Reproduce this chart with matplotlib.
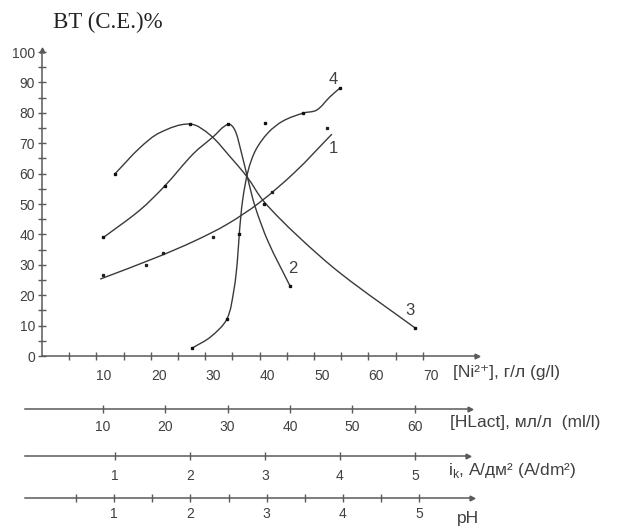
"""Current efficiency of nickel deposition versus bath composition and regime.

One efficiency axis is shared by four stacked abscissae: Ni2+ concentration,
lactic acid concentration, cathodic current density and pH.
"""
import numpy as np
import matplotlib.pyplot as plt
from matplotlib.path import Path
from matplotlib.patches import PathPatch

plt.rcParams["font.family"] = ["Liberation Sans", "DejaVu Sans"]
plt.rcParams["mathtext.fontset"] = "custom"
plt.rcParams["mathtext.rm"] = "Liberation Sans"

LINE_COLOUR = "#3a3a3a"
AXIS_COLOUR = "#5a5a5a"
TEXT_COLOUR = "#404040"

# traced curves (x in the Ni2+ scale, y = current efficiency, %)
curve1_x = [10.7, 21.0, 28.0, 34.0, 40.0, 46.5, 53.3]
curve1_y = [25.3, 32.4, 37.8, 43.3, 50.5, 60.5, 73.0]
curve2_x = [11.3, 18.0, 22.6, 27.8, 31.4, 34.2, 35.4, 36.5, 37.8, 39.2, 41.6, 45.6]
curve2_y = [39.0, 48.0, 56.0, 66.5, 72.0, 76.2, 74.5, 68.0, 58.5, 49.0, 37.5, 23.0]
curve3_x = [13.4, 18.0, 21.7, 27.2, 30.9, 34.6, 37.7, 40.8, 47.0, 55.0, 68.6]
curve3_y = [59.9, 68.5, 73.5, 76.3, 72.7, 65.5, 58.9, 50.8, 39.5, 27.0, 9.2]
curve4_x = [27.6, 31.0, 34.0, 35.3, 35.9, 36.3, 36.9, 37.9, 39.3, 41.6, 44.3, 48.0, 50.5, 52.9, 54.8]
curve4_y = [2.6, 6.3, 12.2, 22.0, 31.0, 41.0, 51.5, 61.0, 67.8, 73.5, 77.3, 79.9, 80.9, 85.2, 88.2]

# measured points
pts1_x = [11.2, 19.1, 22.2, 31.4, 42.3, 52.4]
pts1_y = [26.6, 29.9, 33.8, 39.1, 53.9, 75.0]
pts2_x = [11.3, 22.6, 34.2, 45.6]
pts2_y = [39.0, 56.0, 76.3, 23.0]
pts3_x = [13.4, 27.2, 40.8, 68.6]
pts3_y = [59.9, 76.3, 50.0, 9.2]
pts4_x = [27.6, 34.0, 36.2, 41.0, 48.0, 54.8]
pts4_y = [2.6, 12.2, 40.1, 76.6, 79.9, 88.2]

curve_labels = ["1", "2", "3", "4"]
label_x = [53.5, 46.1, 67.6, 53.5]
label_y = [68.4, 28.9, 15.1, 91.1]

ni_ticks = [10, 20, 30, 40, 50, 60, 70]
hlact_ticks = [10, 20, 30, 40, 50, 60]
ik_ticks = [1, 2, 3, 4, 5]
ph_ticks = [1, 2, 3, 4, 5]

W, H = 638, 528
X_SCALE, Y_SCALE = 5.44, 3.04   # pixels per data unit on the main axes


def box(left, top, right, bottom):
    """Pixel box -> figure-fraction rectangle."""
    return [left / W, 1 - bottom / H, (right - left) / W, (bottom - top) / H]


def smooth_path(xs, ys):
    """Smooth Bezier curve through the points, tangents taken in screen space."""
    p = np.column_stack([xs, ys]).astype(float) * [X_SCALE, Y_SCALE]
    n = len(p)
    tang = np.zeros_like(p)
    for i in range(n):
        d = p[min(i + 1, n - 1)] - p[max(i - 1, 0)]
        tang[i] = d / np.hypot(*d)
    verts = [p[0]]
    codes = [Path.MOVETO]
    for i in range(n - 1):
        seg = np.hypot(*(p[i + 1] - p[i])) / 3
        verts += [p[i] + tang[i] * seg, p[i + 1] - tang[i + 1] * seg, p[i + 1]]
        codes += [Path.CURVE4] * 3
    verts = np.array(verts) / [X_SCALE, Y_SCALE]
    return Path(verts, codes)


def arrow_end(ax):
    ax.plot(1, 0, ">", color=AXIS_COLOUR, markersize=3.5,
            transform=ax.transAxes, clip_on=False)


fig = plt.figure(figsize=(W / 100, H / 100), dpi=100)

ax = fig.add_axes(box(42, 50, 477, 356))
ax.set_xlim(0, (477 - 42) / X_SCALE)
ax.set_ylim(0, (356 - 50) / Y_SCALE)
for side in ("top", "right"):
    ax.spines[side].set_visible(False)
for side in ("left", "bottom"):
    ax.spines[side].set_color(AXIS_COLOUR)
    ax.spines[side].set_linewidth(1.1)
ax.set_facecolor("none")

ax.set_xticks(ni_ticks)
ax.set_xticklabels([str(v) for v in ni_ticks], ha="left")
ax.set_xticks(np.arange(5, 70, 10), minor=True)
ax.set_yticks(np.arange(0, 101, 10))
ax.set_yticks(np.arange(5, 100, 10), minor=True)
ax.tick_params(which="both", direction="inout", length=6, width=1.0,
               color=AXIS_COLOUR, labelcolor=TEXT_COLOUR, labelsize=10)
ax.tick_params(axis="x", pad=6)
ax.tick_params(axis="y", pad=2)
arrow_end(ax)
ax.plot(0, 1, "^", color=AXIS_COLOUR, markersize=3.5,
        transform=ax.transAxes, clip_on=False)

for xs, ys in [(curve1_x, curve1_y), (curve2_x, curve2_y),
               (curve3_x, curve3_y), (curve4_x, curve4_y)]:
    ax.add_patch(PathPatch(smooth_path(xs, ys), fill=False,
                           edgecolor=LINE_COLOUR, linewidth=1.0))
ax.plot(pts1_x, pts1_y, "s", color="#222222", markersize=1.4, linestyle="none")
for xs, ys in [(pts2_x, pts2_y), (pts3_x, pts3_y), (pts4_x, pts4_y)]:
    ax.plot(xs, ys, "s", color="#111111", markersize=1.9, linestyle="none")

for text, x, y in zip(curve_labels, label_x, label_y):
    ax.text(x, y, text, fontsize=12, color=TEXT_COLOUR, ha="center", va="center")


def scale_axis(left, right, y, lims, ticks, minor, pad):
    sub = fig.add_axes(box(left, y - 0.5, right, y + 0.5))
    sub.set_xlim(*lims)
    sub.set_ylim(0, 1)
    sub.set_facecolor("none")
    for side in ("top", "right", "left"):
        sub.spines[side].set_visible(False)
    sub.spines["bottom"].set_color(AXIS_COLOUR)
    sub.spines["bottom"].set_linewidth(1.1)
    sub.set_yticks([])
    sub.set_xticks(ticks)
    sub.set_xticklabels([str(v) for v in ticks])
    if minor is not None:
        sub.set_xticks(minor, minor=True)
    sub.tick_params(which="both", direction="inout", length=6, width=1.0,
                    color=AXIS_COLOUR, labelcolor=TEXT_COLOUR, labelsize=10, pad=pad)
    arrow_end(sub)
    return sub


scale_axis(25, 470, 408, ((25 - 40.3) / 6.24, (470 - 40.3) / 6.24), hlact_ticks, None, 5)
scale_axis(25, 468, 455, ((25 - 40) / 75, (468 - 40) / 75), ik_ticks, None, 6.5)
scale_axis(25, 472, 497, ((25 - 37.9) / 76.25, (472 - 37.9) / 76.25),
           ph_ticks, np.arange(0.5, 5, 1.0), 3.5)

# axis titles
title_kw = dict(fontsize=12.5, color=TEXT_COLOUR, va="center", ha="left")
fig.text(453 / W, 1 - 373 / H, "[Ni²⁺], г/л (g/l)", **title_kw)
fig.text(450 / W, 1 - 423 / H, "[HLact], мл/л  (ml/l)", **title_kw)
fig.text(448 / W, 1 - 470 / H, r"i$_{\mathregular{k}}$, А/дм² (A/dm²)", **title_kw)
fig.text(457 / W, 1 - 519 / H, "pH", **title_kw)

fig.text(53 / W, 1 - 22 / H, "BT (C.E.)%", fontsize=16.5, color="#222222",
         family=["Liberation Serif", "DejaVu Serif"], va="center", ha="left")

fig.savefig("out.png", dpi=100)
